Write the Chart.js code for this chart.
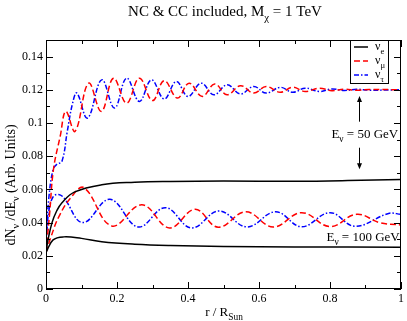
<!DOCTYPE html>
<html>
<head>
<meta charset="UTF-8">
<title>NC & CC included, M_chi = 1 TeV</title>
<script src="https://cdn.jsdelivr.net/npm/chart.js"></script>
<style>
    body { margin: 0; background: #fff; }
    canvas { display: block; }
</style>
</head>
<body>
<canvas id="fluxChart" width="407" height="321"></canvas>
<script>
    // E_nu = 50 GeV
    const rE50 = [0, 0.006, 0.017, 0.03, 0.045, 0.081, 0.157, 0.25, 0.35, 0.5, 0.7, 0.85, 1.0];
    const nuE50 = [0.022, 0.030, 0.040, 0.047, 0.052, 0.0585, 0.0628, 0.0643, 0.0648, 0.065, 0.0649, 0.0653, 0.066];
    const rMu50 = [0, 0.01, 0.021, 0.04, 0.056, 0.082, 0.12, 0.156, 0.19, 0.227, 0.263, 0.30, 0.333, 0.37, 0.403,
        0.44, 0.475, 0.51, 0.548, 0.585, 0.62, 0.66, 0.695, 0.73, 0.77, 0.805, 0.84, 0.875, 0.91, 1.0];
    const nuMu50 = [0.022, 0.045, 0.072, 0.092, 0.107, 0.095, 0.124, 0.107, 0.127, 0.112, 0.127, 0.1135, 0.1255, 0.115, 0.124,
        0.116, 0.1235, 0.117, 0.1225, 0.118, 0.122, 0.1185, 0.1215, 0.119, 0.121, 0.1195, 0.1204, 0.1197, 0.1202, 0.120];
    const rTau50 = [0, 0.008, 0.02, 0.03, 0.045, 0.06, 0.075, 0.087, 0.117, 0.157, 0.193, 0.227, 0.263, 0.297, 0.333, 0.367,
        0.40, 0.437, 0.473, 0.51, 0.548, 0.585, 0.62, 0.66, 0.695, 0.73, 0.77, 0.805, 0.84, 0.875, 0.91, 1.0];
    const nuTau50 = [0.029, 0.055, 0.072, 0.075, 0.077, 0.095, 0.112, 0.118, 0.103, 0.126, 0.109, 0.127, 0.113, 0.126, 0.1145, 0.125,
        0.116, 0.124, 0.117, 0.123, 0.1175, 0.122, 0.118, 0.1215, 0.1185, 0.121, 0.119, 0.1205, 0.1196, 0.1203, 0.1198, 0.120];

    // E_nu = 100 GeV
    const rE100 = [0, 0.02, 0.05, 0.1, 0.157, 0.25, 0.35, 0.5, 0.7, 1.0];
    const nuE100 = [0.022, 0.0296, 0.0314, 0.0305, 0.0285, 0.027, 0.0262, 0.0256, 0.0253, 0.0252];
    const rMu100 = [0, 0.015, 0.036, 0.07, 0.107, 0.185, 0.27, 0.348, 0.42, 0.485, 0.563, 0.64, 0.72, 0.80, 0.875, 0.94, 1.0];
    const nuMu100 = [0.022, 0.032, 0.0435, 0.055, 0.061, 0.038, 0.0507, 0.0368, 0.048, 0.0372, 0.0465, 0.0373, 0.046, 0.0376, 0.0450, 0.040, 0.0385];
    const rTau100 = [0, 0.008, 0.02, 0.035, 0.05, 0.104, 0.18, 0.26, 0.336, 0.41, 0.487, 0.566, 0.647, 0.72, 0.80, 0.87, 0.965, 1.0];
    const nuTau100 = [0.028, 0.047, 0.0555, 0.057, 0.055, 0.040, 0.054, 0.0374, 0.049, 0.0368, 0.047, 0.0374, 0.0465, 0.0375, 0.046, 0.0378, 0.0455, 0.045];

    const xTicks = [0, 0.2, 0.4, 0.6, 0.8, 1];
    const xTickLabels = ['0', '0.2', '0.4', '0.6', '0.8', '1'];
    const yTicks = [0, 0.02, 0.04, 0.06, 0.08, 0.1, 0.12, 0.14];
    const yTickLabels = ['0', '0.02', '0.04', '0.06', '0.08', '0.1', '0.12', '0.14'];

    const FONT = "'Liberation Serif', 'Times New Roman', serif";

    function pts(rs, ys) {
        return rs.map((r, i) => ({ x: r, y: ys[i] }));
    }

    // text with subscripts: parts = [[text, isSub], ...]
    function drawRich(ctx, parts, x, y, size, align) {
        let w = 0;
        parts.forEach(p => {
            ctx.font = (p[1] ? size * 0.72 : size) + 'px ' + FONT;
            w += ctx.measureText(p[0]).width;
        });
        let cx = align === 'center' ? x - w / 2 : (align === 'right' ? x - w : x);
        ctx.textAlign = 'left';
        ctx.textBaseline = 'alphabetic';
        parts.forEach(p => {
            const s = p[1] ? size * 0.72 : size;
            ctx.font = s + 'px ' + FONT;
            ctx.fillText(p[0], cx, p[1] ? y + size * 0.3 : y);
            cx += ctx.measureText(p[0]).width;
        });
    }

    function arrow(ctx, x, y0, y1) {
        const dir = y1 > y0 ? 1 : -1;
        ctx.beginPath();
        ctx.moveTo(x, y0);
        ctx.lineTo(x, y1 - dir * 5);
        ctx.stroke();
        ctx.beginPath();
        ctx.moveTo(x, y1);
        ctx.lineTo(x - 2.5, y1 - dir * 6);
        ctx.lineTo(x + 2.5, y1 - dir * 6);
        ctx.closePath();
        ctx.fill();
    }

    const styles = {
        e: { color: '#000000', dash: [] },
        mu: { color: '#ff0000', dash: [6, 3] },
        tau: { color: '#0000ff', dash: [5, 2, 1.5, 2] }
    };

    function ds(label, data, st) {
        return {
            label: label,
            data: data,
            borderColor: st.color,
            borderDash: st.dash,
            borderWidth: 1.5,
            pointRadius: 0,
            tension: 0.4,
            fill: false
        };
    }

    const decorPlugin = {
        id: 'decor',
        afterDraw(chart) {
            const ctx = chart.ctx;
            const a = chart.chartArea;
            const xs = chart.scales.x, ys = chart.scales.y;
            ctx.save();
            ctx.strokeStyle = '#000';
            ctx.fillStyle = '#000';
            ctx.lineWidth = 1;
            ctx.setLineDash([]);

            // frame
            ctx.strokeRect(a.left + 0.5, a.top + 0.5, a.right - a.left - 1, a.bottom - a.top - 1);

            // inward ticks on all four sides
            ctx.beginPath();
            for (let v = 0; v <= 1.0001; v += 0.1) {
                const major = Math.abs(v * 5 - Math.round(v * 5)) < 1e-6;
                const len = major ? 7 : 4;
                const px = Math.round(xs.getPixelForValue(v)) + 0.5;
                ctx.moveTo(px, a.bottom); ctx.lineTo(px, a.bottom - len);
                ctx.moveTo(px, a.top); ctx.lineTo(px, a.top + len);
            }
            for (let v = 0; v <= 0.15001; v += 0.01) {
                const major = Math.abs(v * 50 - Math.round(v * 50)) < 1e-6;
                const len = major ? 7 : 4;
                const py = Math.round(ys.getPixelForValue(v)) + 0.5;
                ctx.moveTo(a.left, py); ctx.lineTo(a.left + len, py);
                ctx.moveTo(a.right, py); ctx.lineTo(a.right - len, py);
            }
            ctx.stroke();

            // title and axis titles
            drawRich(ctx, [['NC & CC included, M', false], ['\u03c7', true], [' = 1 TeV', false]], 225, 16, 15, 'center');
            drawRich(ctx, [['r / R', false], ['Sun', true]], 224, 316, 13, 'center');
            ctx.save();
            ctx.translate(15, 185);
            ctx.rotate(-Math.PI / 2);
            drawRich(ctx, [['dN', false], ['\u03bd', true], [' /dE', false], ['\u03bd', true], [' (Arb. Units)', false]], 0, 0, 14, 'center');
            ctx.restore();

            // legend
            const lx = 350, ly = 40;
            ctx.fillStyle = '#fff';
            ctx.fillRect(lx, ly, 38, 43);
            ctx.strokeStyle = '#000';
            ctx.strokeRect(lx + 0.5, ly + 0.5, 38, 43);
            const entries = [[styles.e, 'e'], [styles.mu, '\u03bc'], [styles.tau, '\u03c4']];
            entries.forEach((en, i) => {
                const yy = ly + 7 + i * 14;
                ctx.strokeStyle = en[0].color;
                ctx.lineWidth = 1.5;
                ctx.setLineDash(en[0].dash);
                ctx.beginPath();
                ctx.moveTo(lx + 4, yy);
                ctx.lineTo(lx + 18, yy);
                ctx.stroke();
                ctx.setLineDash([]);
                ctx.fillStyle = '#000';
                drawRich(ctx, [['\u03bd', false], [en[1], true]], lx + 25, yy + 3, 12, 'left');
            });

            // annotations
            ctx.strokeStyle = '#000';
            ctx.fillStyle = '#000';
            ctx.lineWidth = 1;
            const ax = Math.round(xs.getPixelForValue(0.882)) + 0.5;
            arrow(ctx, ax, ys.getPixelForValue(0.1008), ys.getPixelForValue(0.1162));
            arrow(ctx, ax, ys.getPixelForValue(0.0851), ys.getPixelForValue(0.0722));
            drawRich(ctx, [['E', false], ['\u03bd', true], [' = 50 GeV', false]], xs.getPixelForValue(0.804), ys.getPixelForValue(0.0911), 13, 'left');
            drawRich(ctx, [['E', false], ['\u03bd', true], [' = 100 GeV', false]], xs.getPixelForValue(0.79), ys.getPixelForValue(0.0290), 13, 'left');
            ctx.restore();
        }
    };

    const config = {
        type: 'line',
        data: {
            datasets: [
                ds('\u03bd_e 50 GeV', pts(rE50, nuE50), styles.e),
                ds('\u03bd_e 100 GeV', pts(rE100, nuE100), styles.e),
                ds('\u03bd_\u03bc 50 GeV', pts(rMu50, nuMu50), styles.mu),
                ds('\u03bd_\u03bc 100 GeV', pts(rMu100, nuMu100), styles.mu),
                ds('\u03bd_\u03c4 50 GeV', pts(rTau50, nuTau50), styles.tau),
                ds('\u03bd_\u03c4 100 GeV', pts(rTau100, nuTau100), styles.tau)
            ]
        },
        options: {
            responsive: false,
            animation: false,
            layout: { padding: { top: 40, right: 4, left: 0, bottom: 0 } },
            plugins: {
                legend: { display: false },
                title: { display: false },
                tooltip: { enabled: false }
            },
            scales: {
                x: {
                    type: 'linear',
                    min: 0,
                    max: 1,
                    grid: { display: false, drawTicks: false },
                    border: { display: false },
                    afterBuildTicks: s => { s.ticks = xTicks.map(v => ({ value: v })); },
                    afterFit: s => { s.height = 32; },
                    ticks: {
                        padding: 3,
                        maxRotation: 0,
                        color: '#000',
                        font: { family: FONT, size: 12 },
                        callback: (v) => xTickLabels[xTicks.indexOf(v)]
                    }
                },
                y: {
                    type: 'linear',
                    min: 0,
                    max: 0.15,
                    grid: { display: false, drawTicks: false },
                    border: { display: false },
                    afterBuildTicks: s => { s.ticks = yTicks.map(v => ({ value: v })); },
                    afterFit: s => { s.width = 46; },
                    ticks: {
                        padding: 3,
                        color: '#000',
                        font: { family: FONT, size: 12 },
                        callback: (v) => yTickLabels[yTicks.indexOf(v)]
                    }
                }
            }
        },
        plugins: [decorPlugin]
    };

    const chart = new Chart(document.getElementById('fluxChart').getContext('2d'), config);
</script>
</body>
</html>
